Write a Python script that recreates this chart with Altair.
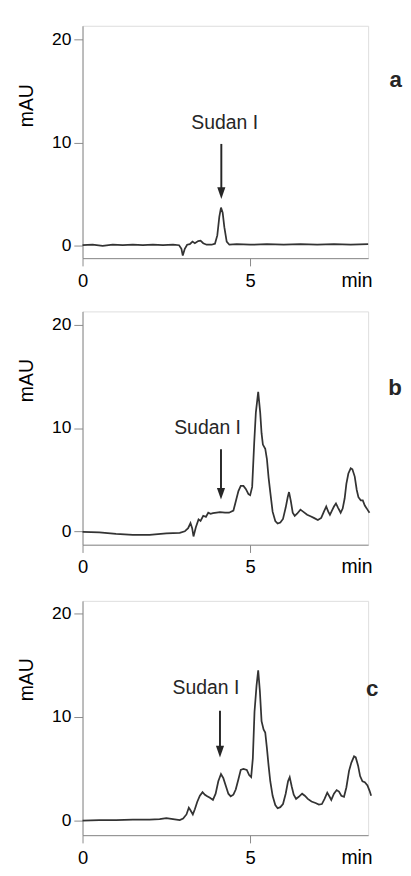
import altair as alt
import pandas as pd

# ---------------- data ----------------
t_a = [0.00, 0.30, 0.60, 0.90, 1.20, 1.50, 1.80, 2.10, 2.40, 2.70, 2.88, 2.95, 2.99, 3.05,
       3.12, 3.20, 3.28, 3.35, 3.45, 3.52, 3.60, 3.70, 3.85, 3.95, 4.02, 4.08, 4.13, 4.18,
       4.23, 4.30, 4.38, 4.60, 5.00, 5.50, 6.00, 6.50, 7.00, 7.50, 8.00, 8.52]
v_a = [0.05, 0.10, 0.00, 0.10, 0.05, 0.10, 0.05, 0.10, 0.05, 0.10, 0.05, -0.30, -0.95, -0.30,
       0.10, 0.15, 0.40, 0.25, 0.45, 0.50, 0.25, 0.10, 0.10, 0.20, 1.00, 2.80, 3.70, 3.20,
       1.80, 0.40, 0.10, 0.15, 0.10, 0.15, 0.10, 0.15, 0.10, 0.15, 0.10, 0.15]

t_b = [0.00, 0.50, 1.00, 1.50, 2.00, 2.50, 2.90, 3.05, 3.15, 3.22, 3.27, 3.31, 3.38, 3.46,
       3.52, 3.60, 3.68, 3.75, 3.82, 3.89, 4.00, 4.10, 4.25, 4.37, 4.50, 4.58, 4.65, 4.72,
       4.80, 4.87, 4.95, 5.00, 5.06, 5.12, 5.17, 5.24, 5.30, 5.34, 5.38, 5.45, 5.50, 5.55,
       5.60, 5.67, 5.75, 5.82, 5.90, 5.98, 6.06, 6.12, 6.16, 6.21, 6.27, 6.33, 6.40, 6.50,
       6.58, 6.70, 6.80, 6.90, 7.02, 7.12, 7.20, 7.27, 7.33, 7.38, 7.44, 7.50, 7.56, 7.62,
       7.70, 7.76, 7.82, 7.87, 7.93, 8.00, 8.05, 8.12, 8.18, 8.23, 8.30, 8.36, 8.42, 8.50, 8.56]
v_b = [-0.05, -0.10, -0.25, -0.35, -0.35, -0.20, -0.15, 0.00, 0.30, 0.80, 0.30, -0.50, 0.40, 1.15,
       1.00, 1.50, 1.40, 1.80, 1.70, 1.75, 1.80, 1.85, 1.80, 1.80, 2.00, 3.00, 3.90, 4.40,
       4.40, 4.10, 3.60, 3.50, 4.30, 8.50, 11.50, 13.50, 11.50, 9.50, 8.40, 8.00, 7.00, 5.20,
       3.80, 1.90, 1.00, 0.75, 0.85, 1.20, 2.30, 3.30, 3.80, 3.00, 1.80, 1.50, 1.70, 2.10,
       1.90, 1.60, 1.45, 1.30, 1.10, 1.30, 1.90, 2.40, 1.90, 1.60, 2.00, 2.40, 2.70, 2.30,
       1.80, 2.20, 3.20, 4.60, 5.60, 6.10, 6.00, 5.30, 4.00, 3.30, 3.00, 3.00, 2.50, 2.10, 1.80]

t_c = [0.00, 0.50, 1.00, 1.50, 2.00, 2.30, 2.50, 2.70, 2.90, 3.00, 3.10, 3.17, 3.22, 3.29,
       3.35, 3.42, 3.50, 3.58, 3.65, 3.72, 3.80, 3.89, 3.97, 4.05, 4.13, 4.20, 4.28, 4.35,
       4.42, 4.50, 4.57, 4.65, 4.72, 4.80, 4.90, 4.97, 5.03, 5.08, 5.13, 5.19, 5.24, 5.29,
       5.34, 5.40, 5.45, 5.50, 5.55, 5.60, 5.67, 5.75, 5.82, 5.90, 5.98, 6.06, 6.13, 6.18,
       6.24, 6.30, 6.37, 6.45, 6.55, 6.63, 6.72, 6.83, 6.95, 7.05, 7.14, 7.22, 7.30, 7.37,
       7.42, 7.50, 7.58, 7.65, 7.72, 7.80, 7.87, 7.95, 8.02, 8.10, 8.15, 8.22, 8.28, 8.35,
       8.42, 8.50, 8.56, 8.61]
v_c = [0.00, 0.05, 0.05, 0.10, 0.10, 0.15, 0.25, 0.15, 0.05, 0.20, 0.60, 1.25, 1.00, 0.60,
       1.10, 1.80, 2.40, 2.75, 2.50, 2.35, 2.20, 2.00, 2.60, 3.80, 4.50, 4.10, 3.30, 2.60,
       2.35, 2.50, 3.00, 4.00, 4.90, 5.00, 4.90, 4.40, 4.20, 6.00, 10.50, 13.00, 14.50, 12.50,
       9.60, 8.80, 8.50, 7.00, 5.30, 3.80, 2.40, 1.50, 1.20, 1.30, 1.60, 2.60, 3.80, 4.20,
       3.30, 2.50, 2.10, 2.30, 2.60, 2.40, 2.10, 1.85, 1.70, 1.55, 1.60, 2.10, 2.70, 2.30,
       2.00, 2.60, 2.95, 2.80, 2.40, 2.30, 3.20, 4.80, 5.60, 6.20, 6.10, 5.30, 4.30, 3.80,
       3.70, 3.40, 2.90, 2.40]

x_ticks = [0, 5]
y_ticks = [0, 10, 20]
panel_letters = ["a", "b", "c"]
peak_label = "Sudan I"

# ---------------- styling ----------------
FONT = "Liberation Sans"
INK = "#262626"
TRACE = "#333333"
X_DOMAIN = [0, 8.52]


def make_panel(t, v, ydom, height, letter, letter_tv, label_tv, arrow_t, arrow_top, arrow_bot,
               title_y):
    df = pd.DataFrame({"t": t, "v": v})
    x = alt.X("t:Q",
              scale=alt.Scale(domain=X_DOMAIN, nice=False, zero=False),
              axis=alt.Axis(values=x_ticks, format="d", grid=False, title="min", titleX=283,
                            titleY=29, titleAlign="center", titleBaseline="alphabetic",
                            titleFontSize=20, titleFontWeight="normal",
                            labelFontSize=19, tickSize=8, labelPadding=6,
                            labelFlush=False))
    y = alt.Y("v:Q",
              scale=alt.Scale(domain=ydom, nice=False, zero=False),
              axis=alt.Axis(values=y_ticks, format="d", grid=False, title="mAU", titleX=-52,
                            titleY=title_y, titleAngle=270, titleAlign="center",
                            titleBaseline="alphabetic", titleFontSize=20,
                            titleFontWeight="normal", labelFontSize=18, tickSize=9,
                            labelPadding=3))

    line = alt.Chart(df).mark_line(color=TRACE, strokeWidth=1.8).encode(x=x, y=y)

    lab = alt.Chart(pd.DataFrame({"t": [label_tv[0]], "v": [label_tv[1]], "s": [peak_label]})).mark_text(
        font=FONT, fontSize=20, color=INK, align="center", baseline="alphabetic"
    ).encode(x=x, y=y, text="s:N")

    unit = (ydom[1] - ydom[0]) / height  # data units per pixel
    shaft = alt.Chart(pd.DataFrame({"t": [arrow_t], "v": [arrow_top], "v2": [arrow_bot + 10 * unit]})).mark_rule(
        color=INK, strokeWidth=2
    ).encode(x=x, y=y, y2="v2:Q")

    head = alt.Chart(pd.DataFrame({"t": [arrow_t], "v": [arrow_bot + 6 * unit]})).mark_point(
        shape="M -0.7 -1 L 0.7 -1 L 0 1 Z", filled=True, color=INK, opacity=1, size=144,
        strokeWidth=0
    ).encode(x=x, y=y)

    let = alt.Chart(pd.DataFrame({"t": [letter_tv[0]], "v": [letter_tv[1]], "s": [letter]})).mark_text(
        font=FONT, fontSize=23, fontWeight="bold", color=INK, align="center", baseline="alphabetic"
    ).encode(x=x, y=y, text="s:N")

    return alt.layer(line, lab, shaft, head, let).properties(width=295, height=height)


pa = make_panel(t_a, v_a, [-1.2, 21.3], 240, panel_letters[0], (9.34, 15.4), (4.24, 11.3),
                4.14, 9.86, 4.53, 82)
pb = make_panel(t_b, v_b, [-1.3, 21.3], 241, panel_letters[1], (9.32, 13.2), (3.73, 9.47),
                4.13, 7.94, 3.07, 71)
pc = make_panel(t_c, v_c, [-1.4, 21.2], 242, panel_letters[2], (8.64, 12.0), (3.68, 12.2),
                4.10, 10.6, 6.1, 81)

top = alt.vconcat(pa, pb, spacing=20)
chart = alt.vconcat(top, pc, spacing=23).properties(
    padding={"left": 8, "top": 3, "right": 0, "bottom": 0}
).configure_view(stroke=None).configure_axis(
    grid=False, domainColor=INK, tickColor=INK, labelColor=INK, titleColor=INK,
    domainWidth=1.3, tickWidth=1.3, labelFont=FONT, titleFont=FONT
).configure(background="white")

chart.save("out.html", embed_options={"renderer": "svg", "actions": False})
